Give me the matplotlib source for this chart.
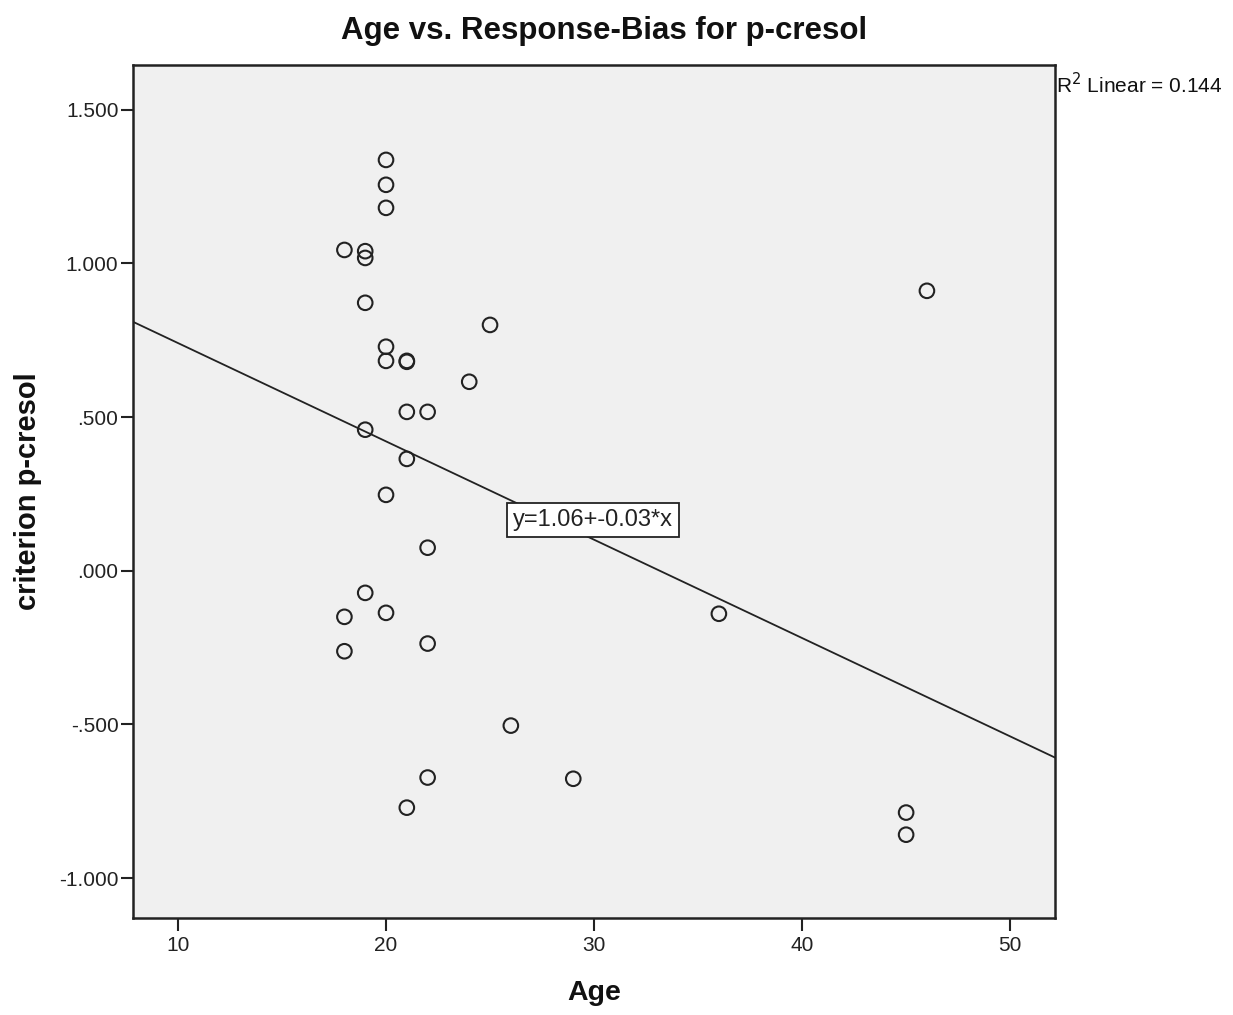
import matplotlib
matplotlib.use("Agg")
import matplotlib.pyplot as plt

plt.rcParams['font.family'] = ['Liberation Sans', 'DejaVu Sans']

# age and criterion values
age = [20, 20, 20, 18, 19, 19, 19, 20, 20, 21, 21, 25, 24, 21, 22, 19, 21, 20, 22,
       19, 18, 20, 18, 22, 26, 22, 29, 21, 36, 45, 45, 46]
criterion = [1.337, 1.256, 1.181, 1.044, 1.040, 1.018, 0.872, 0.729, 0.683, 0.683, 0.680,
             0.800, 0.615, 0.517, 0.517, 0.459, 0.364, 0.247, 0.075,
             -0.072, -0.150, -0.137, -0.262, -0.237, -0.504, -0.673, -0.677, -0.771,
             -0.140, -0.787, -0.859, 0.911]

fit_intercept = 1.061
fit_slope = -0.032
r2 = 0.144

fig = plt.figure(figsize=(12.33, 10.15), dpi=100)
ax = fig.add_axes([0.1079, 0.0956, 0.7478, 0.8404])
ax.set_facecolor('#f0f0f0')

ax.scatter(age, criterion, s=110, facecolors='none', edgecolors='#222222',
           linewidths=1.5, zorder=3)

xmin, xmax = 7.84, 52.16
ax.set_xlim(xmin, xmax)
ax.set_ylim(-1.13, 1.646)
ax.plot([xmin, xmax], [fit_intercept + fit_slope * xmin, fit_intercept + fit_slope * xmax],
        color='#222222', lw=1.3, zorder=2)

ax.text(26.12, 0.166, 'y=1.06+-0.03*x', fontsize=17, va='center', ha='left', zorder=4,
        color='#222222',
        bbox=dict(boxstyle='square,pad=0.25', facecolor='white', edgecolor='#222222', lw=1.3))

ax.set_xticks([10, 20, 30, 40, 50])
ax.set_yticks([-1.0, -0.5, 0.0, 0.5, 1.0, 1.5])
ax.set_yticklabels(['-1.000', '-.500', '.000', '.500', '1.000', '1.500'])
ax.tick_params(direction='out', length=9, width=1.5, labelsize=15, colors='#222222')
ax.tick_params(axis='y', pad=1.5)
ax.tick_params(axis='x', pad=4)
for s in ax.spines.values():
    s.set_linewidth(1.8)
    s.set_color('#222222')

fig.text(594 / 1233, 1 - 993 / 1015, 'Age', fontsize=20.5, fontweight='bold',
         ha='center', va='center', color='#111111')
fig.text(28 / 1233, 1 - 491 / 1015, 'criterion p-cresol', fontsize=21, fontweight='bold',
         ha='center', va='center', rotation=90, color='#111111')
fig.text(604 / 1233, 1 - 31 / 1015, 'Age vs. Response-Bias for p-cresol', fontsize=22.5,
         fontweight='bold', ha='center', va='center', color='#111111')

fig.text(1056 / 1233, 1 - 85 / 1015, r'R$^2$ Linear = %.3f' % r2, fontsize=15,
         va='center', ha='left', color='#111111')

fig.savefig('out.png', dpi=100)
